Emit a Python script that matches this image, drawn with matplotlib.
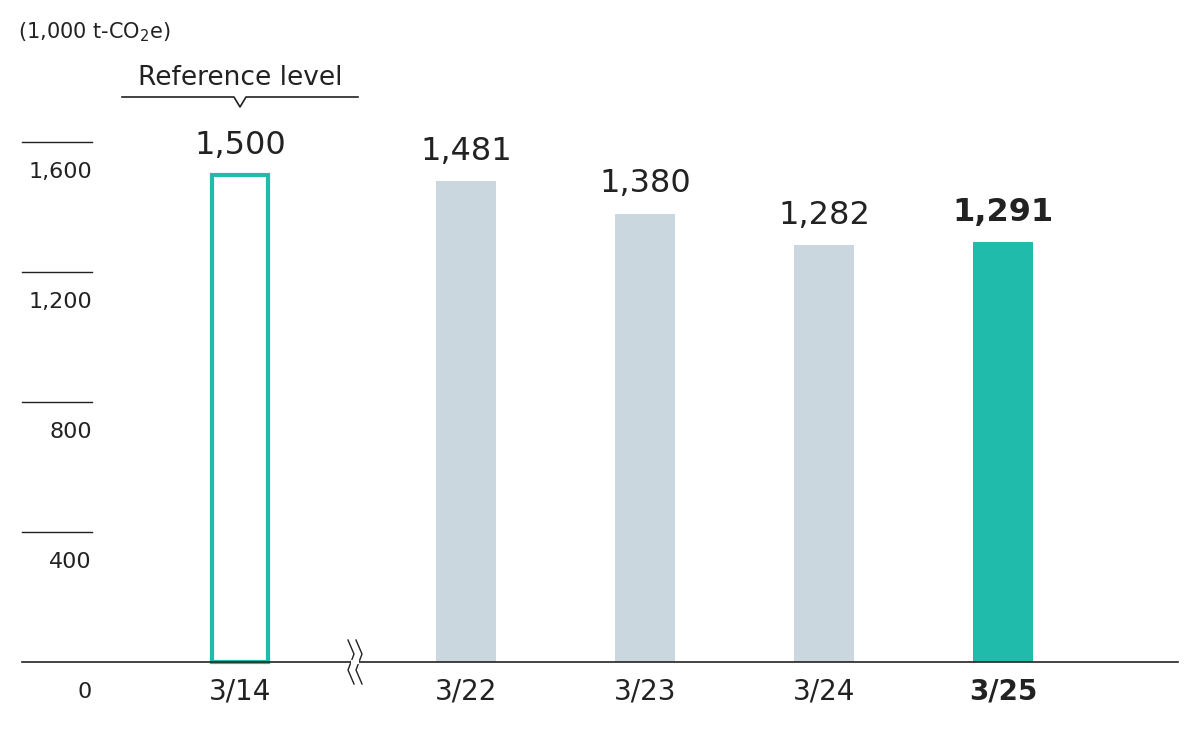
import matplotlib.pyplot as plt

years = ["3/14", "3/22", "3/23", "3/24", "3/25"]
values = [1500, 1481, 1380, 1282, 1291]
value_labels = ["1,500", "1,481", "1,380", "1,282", "1,291"]
ticks = [400, 800, 1200, 1600]
tick_labels = ["400", "800", "1,200", "1,600"]

teal = "#20BBAA"
grey = "#CAD7DF"
ink = "#222222"
plt.rcParams['font.family'] = ['DejaVu Sans']

xpos = [0, 1.263, 2.263, 3.263, 4.263]
px = 1 / 179.0          # x units per pixel
py = 400 / 130.0        # y units per pixel

fig = plt.figure(figsize=(12, 7.3), dpi=100)
ax = fig.add_axes([0, 0, 1, 1])
ax.set_xlim(-240 * px, 960 * px)
ax.set_ylim(-68 * py, 662 * py)
ax.axis("off")

w = 60 * px
for i, (x, v) in enumerate(zip(xpos, values)):
    if i == 0:
        ax.bar(x, v, width=w - 4 * px, facecolor="white", edgecolor=teal, linewidth=3)
    else:
        ax.bar(x, v, width=w, color=teal if i == 4 else grey)
    ax.text(x, v + 14 * py, value_labels[i], ha="center", va="bottom",
            fontsize=23, color=ink, fontweight="bold" if i == 4 else "normal")
    ax.text(x, -30 * py, years[i], ha="center", va="center",
            fontsize=20, color=ink, fontweight="bold" if i == 4 else "normal")

# baseline
ax.plot([-218 * px, 938 * px], [0, 0], color=ink, lw=1.2)
ax.text(-155 * px, -30 * py, "0", ha="center", va="center", fontsize=16, color=ink)

# y "gridlines" with labels below them
for t, lab in zip(ticks, tick_labels):
    ax.plot([-218 * px, -148 * px], [t, t], color=ink, lw=1)
    ax.text(-148 * px, t - 30 * py, lab, ha="right", va="center", fontsize=16, color=ink)

ax.text(-222 * px, 630 * py, "(1,000 t-CO$_2$e)", ha="left", va="center",
        fontsize=15, color=ink)

# reference level bracket
ax.text(0, 584 * py, "Reference level", ha="center", va="center", fontsize=19, color=ink)
yb = 565 * py
ax.plot([-118 * px, -6 * px, 0, 6 * px, 118 * px],
        [yb, yb, yb - 10 * py, yb, yb], color=ink, lw=1.2)

# axis break marks
bx = 115 * px
for dx in (-4 * px, 4 * px):
    ax.plot([bx + dx - 3 * px, bx + dx + 3 * px, bx + dx - 3 * px, bx + dx + 3 * px],
            [22 * py, 8 * py, -8 * py, -22 * py], color=ink, lw=1)
ax.plot([bx - 2 * px, bx + 2 * px], [0, 0], color="white", lw=3)

fig.savefig("out.png", dpi=100)
